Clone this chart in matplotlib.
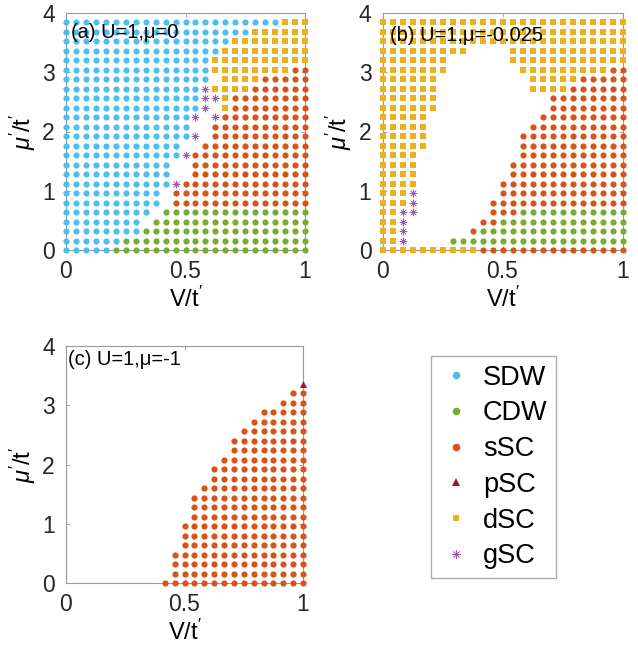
import numpy as np
import matplotlib.pyplot as plt
from matplotlib.lines import Line2D

plt.rcParams['font.family'] = ['Liberation Sans', 'DejaVu Sans']
plt.rcParams['mathtext.fontset'] = 'custom'
plt.rcParams['mathtext.rm'] = 'Liberation Sans'
plt.rcParams['mathtext.it'] = 'Liberation Sans:italic'

# calculation grid
v_grid = np.linspace(0, 1, 25)      # V/t'
mu_grid = np.arange(25) * 0.16      # mu'/t'

# phase of each grid point, one row per mu' (top row first), run-length coded
# B=SDW G=CDW S=sSC P=pSC D=dSC X=gSC -=no order
rows_a = [
    "22B 3D", "19B 6D", "17B 8D", "16B 9D", "15B 10D",
    "15B 8D 2S", "15B 1- 4D 5S", "14B 1X 4D 6S", "14B 2X 1D 8S", "14B 1X 1- 1D 8S",
    "13B 1X 1- 1X 9S", "13B 2- 10S", "13B 1X 1- 10S", "12B 2- 11S", "12B 1X 12S",
    "11B 2- 12S", "11B 2- 12S", "11B 1X 13S", "10B 1- 14S", "10B 1- 14S",
    "9B 1- 15G", "8B 1- 16G", "8B 17G", "6B 19G", "5B 20G",
]
rows_b = [
    "25D", "25D", "25D", "9D 4- 12D", "7D 6- 12D",
    "7D 7- 9D 2S", "6D 9- 5D 5S", "6D 9- 4D 6S", "6D 11- 8S", "6D 11- 8S",
    "5D 11- 9S", "5D 10- 10S", "5D 9- 11S", "5D 9- 11S", "4D 10- 11S",
    "4D 9- 12S", "4D 9- 12S", "4D 8- 13S", "3D 1X 8- 13S", "3D 1X 7- 14S",
    "2D 2X 7- 3S 11G", "2D 1X 7- 2S 13G", "2D 1X 6- 1S 15G", "2D 1X 4- 18G", "10D 15S",
]
rows_c = [
    "25-", "25-", "25-", "24- 1P", "23- 2S",
    "22- 3S", "20- 5S", "19- 6S", "18- 7S", "17- 8S",
    "17- 8S", "16- 9S", "15- 10S", "15- 10S", "14- 11S",
    "13- 12S", "13- 12S", "13- 12S", "12- 13S", "12- 13S",
    "12- 13S", "11- 14S", "11- 14S", "11- 14S", "10- 15S",
]

phase_codes = ['B', 'G', 'S', 'P', 'D', 'X']
phase_names = ['SDW', 'CDW', 'sSC', 'pSC', 'dSC', 'gSC']
phase_colors = ['#4DBEEE', '#77AC30', '#D95319', '#A2142F', '#EDB120', '#9B59AD']
phase_markers = ['o', 'o', 'o', '^', 's', (8, 2, 0)]
marker_sizes = [20, 20, 20, 26, 16, 26]

panel_titles = ['(a) U=1,\u03bc=0', '(b) U=1,\u03bc=-0.025', '(c) U=1,\u03bc=-1']


def decode(rows):
    grid = []
    for r in rows:
        line = ''
        for tok in r.split():
            line += tok[-1] * int(tok[:-1])
        grid.append(line)
    return grid[::-1]


fig = plt.figure(figsize=(6.38, 6.55), dpi=100)
W, H = 638, 655
boxes = [(66, 13, 239, 237), (382.5, 13, 240, 237), (66, 346, 237, 237.3)]
title_pos = [(0.022, 0.916), (0.03, 0.907), (0.008, 0.943)]

for k, rows in enumerate([rows_a, rows_b, rows_c]):
    x0, y0, w, h = boxes[k]
    ax = fig.add_axes([x0 / W, 1 - (y0 + h) / H, w / W, h / H])
    grid = decode(rows)
    for code, col, mk, sz in zip(phase_codes, phase_colors, phase_markers, marker_sizes):
        xs, ys = [], []
        for j, line in enumerate(grid):
            for i, c in enumerate(line):
                if c == code:
                    xs.append(v_grid[i])
                    ys.append(mu_grid[j])
        if not xs:
            continue
        if code == 'X':
            ax.scatter(xs, ys, s=sz, marker=mk, color=col, linewidths=0.5, clip_on=False, zorder=3)
        else:
            ax.scatter(xs, ys, s=sz, marker=mk, color=col, linewidths=0, clip_on=False, zorder=3)
    ax.set_xlim(0, 1)
    ax.set_ylim(0, 4)
    ax.set_xticks([0, 0.5, 1])
    ax.set_xticklabels(['0', '0.5', '1'])
    ax.set_yticks([0, 1, 2, 3, 4])
    ax.tick_params(direction='in', top=True, right=True, length=3, width=0.6,
                   color='#999999', labelsize=16.5, labelcolor='#262626')
    ax.tick_params(axis='x', pad=7)
    ax.tick_params(axis='y', pad=8)
    for sp in ax.spines.values():
        sp.set_color('#999999')
        sp.set_linewidth(0.8)
    ax.set_xlabel(r"V/t$'$", fontsize=17, labelpad=3)
    ax.set_ylabel(r"$\mu'$/t$'$", fontsize=17, labelpad=3)
    ax.text(title_pos[k][0], title_pos[k][1], panel_titles[k], transform=ax.transAxes,
            fontsize=14.5, va='center', ha='left', zorder=5)

handles = []
for name, col, mk in zip(phase_names, phase_colors, phase_markers):
    if mk == (8, 2, 0):
        handles.append(Line2D([], [], ls='none', marker=mk, color=col, markersize=6, markeredgewidth=0.5, label=name))
    elif mk == 's':
        handles.append(Line2D([], [], ls='none', marker=mk, color=col, markersize=4.5, markeredgewidth=0, label=name))
    else:
        handles.append(Line2D([], [], ls='none', marker=mk, color=col, markersize=5.5, markeredgewidth=0, label=name))

leg = fig.legend(handles=handles, loc='upper left', bbox_to_anchor=(431 / W, 1 - 356 / H),
                 fontsize=19.5, frameon=True, fancybox=False, borderaxespad=0,
                 handlelength=1.2, handletextpad=0.4, labelspacing=0.36, borderpad=0.32)
leg.get_frame().set_edgecolor('#999999')
leg.get_frame().set_linewidth(1.0)

fig.savefig('out.png', dpi=100)
